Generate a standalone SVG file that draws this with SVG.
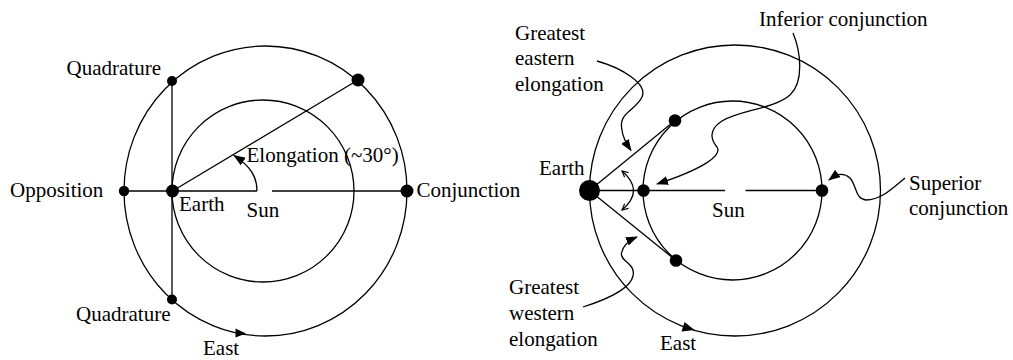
<svg xmlns="http://www.w3.org/2000/svg" width="1013" height="360" viewBox="0 0 1013 360">
<style>
.orb{fill:none;stroke:#000;stroke-width:1.3}
.ln{fill:none;stroke:#000;stroke-width:1.3}
.dot{fill:#000}
text{font-family:"Liberation Serif","Times New Roman",serif;font-size:21px;fill:#000}
</style>
<defs>
<marker id="ah" viewBox="0 0 12 9" refX="11" refY="4.5" markerWidth="12" markerHeight="9" markerUnits="userSpaceOnUse" orient="auto"><path d="M0,0 L12,4.5 L0,9 z" fill="#000"/></marker>
<marker id="oa" viewBox="0 0 8 8" refX="7" refY="4" markerWidth="8" markerHeight="8" markerUnits="userSpaceOnUse" orient="auto-start-reverse"><path d="M1,1 L7,4 L1,7" fill="none" stroke="#000" stroke-width="1.1"/></marker>
</defs>
<rect width="1013" height="360" fill="#fff"/>

<!-- LEFT DIAGRAM -->
<g id="left-orbits">
<ellipse class="orb" cx="265.5" cy="191" rx="141.5" ry="145"/>
<circle class="orb" cx="263" cy="191" r="91"/>
<polygon points="246,333.5 235.5,328.5 235.5,337.5" fill="#000"/>
<text x="203" y="355">East</text>
</g>
<g id="left-connectors">
<line class="ln" x1="124" y1="191" x2="257" y2="191"/>
<line class="ln" x1="272" y1="191" x2="407" y2="191"/>
<line class="ln" x1="172" y1="81" x2="172" y2="299"/>
<line class="ln" x1="172.5" y1="191" x2="358" y2="80"/>
<path class="ln" d="M257,191 C257,176 250,166 234,155.5" marker-end="url(#ah)"/>
</g>
<g id="quad-top"><circle class="dot" cx="172" cy="81" r="5"/><text x="66.5" y="75">Quadrature</text></g>
<g id="opposition"><circle class="dot" cx="124" cy="191" r="5.2"/><text x="10" y="197">Opposition</text></g>
<g id="earth-left"><circle class="dot" cx="172.5" cy="191" r="6.5"/><text x="179" y="210.5">Earth</text></g>
<g id="sun-left"><text x="246.5" y="216.5">Sun</text></g>
<g id="conjunction"><circle class="dot" cx="407" cy="191" r="6.5"/><text x="416.5" y="197">Conjunction</text></g>
<g id="planet-left"><circle class="dot" cx="358" cy="80" r="6.5"/></g>
<g id="quad-bottom"><circle class="dot" cx="172" cy="299.5" r="5"/><text x="76" y="320.5">Quadrature</text></g>
<g id="elongation-label"><text x="246.5" y="161.5">Elongation (~30°)</text></g>

<!-- RIGHT DIAGRAM -->
<g id="right-orbits">
<circle class="orb" cx="735" cy="190.5" r="145.5"/>
<circle class="orb" cx="732.5" cy="190.5" r="89.5"/>
<polygon points="694.5,330 684.5,322 681.5,331.5" fill="#000"/>
<text x="660" y="350">East</text>
</g>
<g id="right-connectors">
<line class="ln" x1="589.5" y1="190.5" x2="725" y2="190.5"/>
<line class="ln" x1="745.5" y1="190.5" x2="822" y2="190.5"/>
<line class="ln" x1="589.5" y1="190.5" x2="675" y2="120.5"/>
<line class="ln" x1="589.5" y1="190.5" x2="676" y2="260.5"/>
<path class="ln" d="M622,171 Q645,190.5 622,210" marker-start="url(#oa)" marker-end="url(#oa)"/>
<path class="ln" d="M597,61 C622,68 648,84 642,97 C636,110 620,112 621.5,127 C622.5,137 626,143 631,150.5" marker-end="url(#ah)"/>
<path class="ln" d="M793,33 C801,52 804,82 790,95 C774,109 740,110 722,121 C708,130 711,140 717,147 C723,156 700,170 657,184" marker-end="url(#ah)"/>
<path class="ln" d="M905,178 C891,190 880,200 866,200 C855,199 857,186 850,178 C843,172 837,174 829,180" marker-end="url(#ah)"/>
<path class="ln" d="M583,307 C605,300 630,290 633,276 C636,263 620,262 621.5,253 C623,245 630,240 637,237" marker-end="url(#ah)"/>
</g>
<g id="earth-right"><circle class="dot" cx="589.5" cy="190.5" r="10.5"/><text x="539" y="175">Earth</text></g>
<g id="sun-right"><text x="712" y="216.5">Sun</text></g>
<g id="inferior"><circle class="dot" cx="643.5" cy="190.5" r="6.3"/><text x="759" y="26">Inferior conjunction</text></g>
<g id="superior"><circle class="dot" cx="822" cy="190.5" r="6.3"/><text x="909" y="189.5">Superior</text><text x="909" y="215">conjunction</text></g>
<g id="east-elong"><circle class="dot" cx="675" cy="120.5" r="6.3"/><text x="515" y="39.5">Greatest</text><text x="515" y="65">eastern</text><text x="515" y="90.5">elongation</text></g>
<g id="west-elong"><circle class="dot" cx="676" cy="260.5" r="6.3"/><text x="509" y="294">Greatest</text><text x="509" y="320">western</text><text x="509" y="345.5">elongation</text></g>
</svg>
